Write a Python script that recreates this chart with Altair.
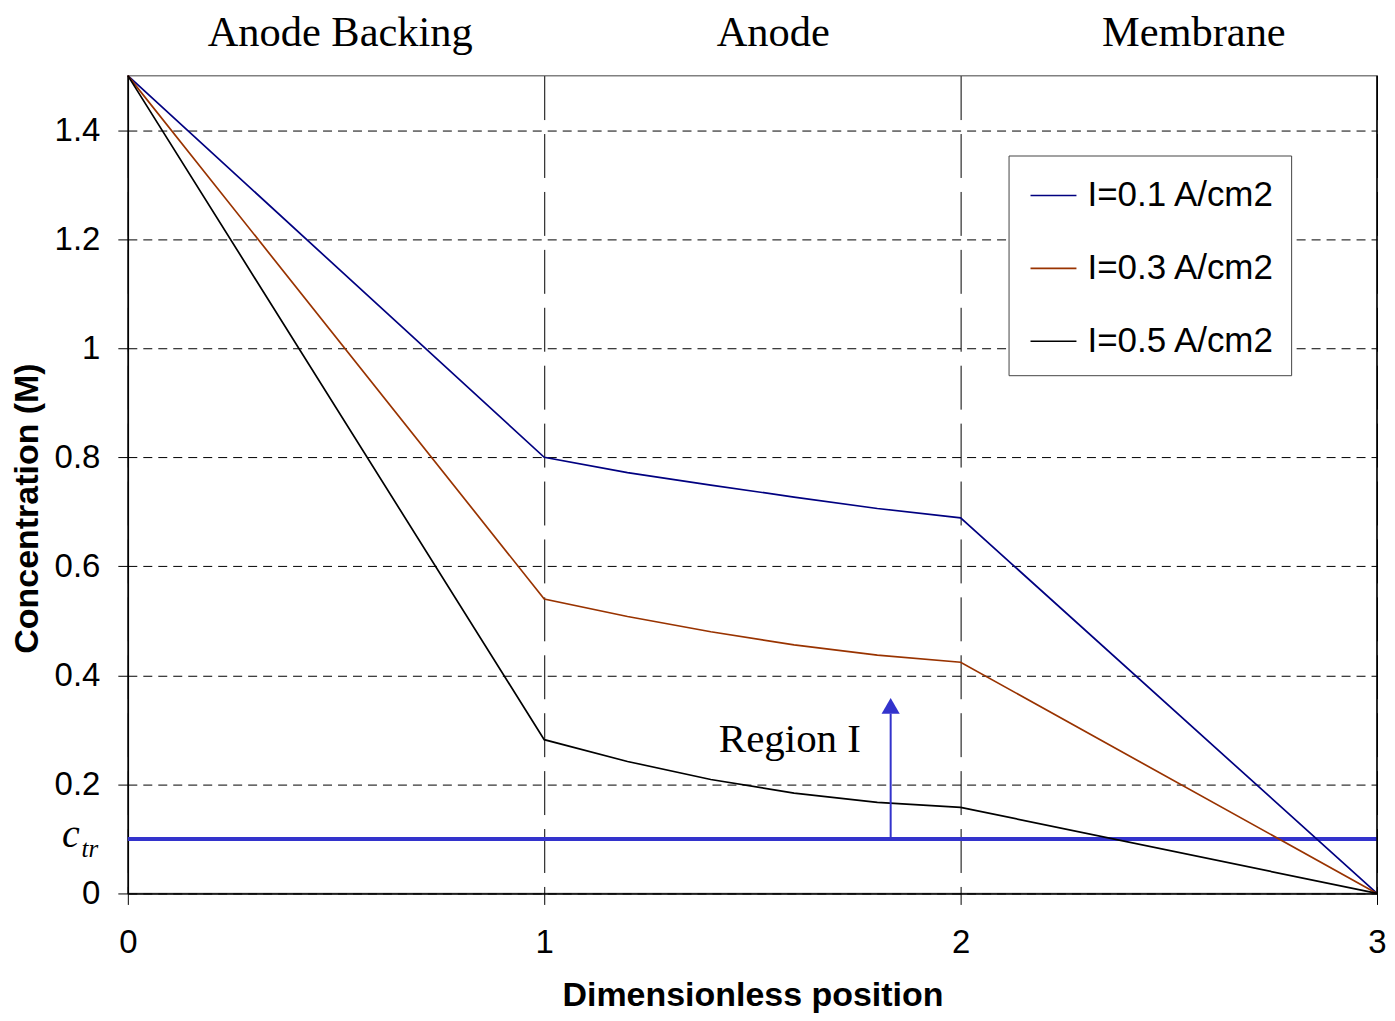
import altair as alt
import pandas as pd

# ---- data ----
x_pos = [0, 1, 1.2, 1.4, 1.6, 1.8, 2, 3]
c_01 = [1.5, 0.800, 0.772, 0.749, 0.727, 0.706, 0.689, 0.0]
c_03 = [1.5, 0.540, 0.508, 0.480, 0.456, 0.437, 0.424, 0.0]
c_05 = [1.5, 0.282, 0.242, 0.209, 0.184, 0.167, 0.158, 0.0]
series_names = ["I=0.1 A/cm2", "I=0.3 A/cm2", "I=0.5 A/cm2"]
series_colors = ["#000080", "#993300", "#000000"]

c_tr = 0.1
arrow_x = 1.832
arrow_top = 0.33

region_labels = ["Anode Backing", "Anode", "Membrane"]
region_x = [0.51, 1.55, 2.56]
region_y = [1.555, 1.555, 1.555]

y_ticks = [0, 0.2, 0.4, 0.6, 0.8, 1.0, 1.2, 1.4]
x_ticks = [0, 1, 2, 3]

rows = []
for name, vals in zip(series_names, [c_01, c_03, c_05]):
    for xv, yv in zip(x_pos, vals):
        rows.append({"x": xv, "y": yv, "series": name})
df = pd.DataFrame(rows)

W, H = 1251, 819
xs = alt.Scale(domain=[0, 3], nice=False)
ys = alt.Scale(domain=[0, 1.5], nice=False)

lines = alt.Chart(df).mark_line(strokeWidth=1.7).encode(
    x=alt.X("x:Q", scale=xs,
            axis=alt.Axis(values=x_ticks, format="d", title="Dimensionless position",
                          grid=True, gridDash=[44, 14], gridColor="black", gridOpacity=1,
                          tickSize=11, labelPadding=22, labelFlush=False,
                          titleY=112, titleBaseline="alphabetic")),
    y=alt.Y("y:Q", scale=ys,
            axis=alt.Axis(values=y_ticks, format="~g", title="Concentration (M)",
                          grid=True, gridDash=[9, 6], gridColor="black", gridOpacity=1,
                          tickSize=10, labelPadding=18, titleX=-100, titleY=433,
                          titleBaseline="middle")),
    color=alt.Color("series:N",
                    scale=alt.Scale(domain=series_names, range=series_colors),
                    legend=alt.Legend(title=None, orient="none", legendX=882, legendY=80,
                                      symbolType="stroke", symbolSize=2116,
                                      symbolStrokeWidth=1.6, labelFontSize=35,
                                      labelFont="Liberation Sans", labelColor="black",
                                      labelLimit=400, symbolOffset=5,
                                      rowPadding=31, labelOffset=10, padding=16,
                                      strokeColor="#444444", fillColor="white")),
    order=alt.Order("x:Q"),
)

ctr_df = pd.DataFrame({"y": [c_tr], "x0": [0], "x1": [3]})
ctr_line = alt.Chart(ctr_df).mark_rule(color="#3333CC", strokeWidth=4).encode(
    x=alt.X("x0:Q", scale=xs), x2="x1:Q", y=alt.Y("y:Q", scale=ys))

arrow_df = pd.DataFrame({"x": [arrow_x], "y0": [c_tr], "y1": [arrow_top]})
arrow_shaft = alt.Chart(arrow_df).mark_rule(color="#3333CC", strokeWidth=2).encode(
    x=alt.X("x:Q", scale=xs), y=alt.Y("y0:Q", scale=ys), y2="y1:Q")
head_df = pd.DataFrame({"x": [arrow_x], "y": [0.344]})
arrow_head = alt.Chart(head_df).mark_point(shape="triangle-up", filled=True, size=330,
                                           color="#3333CC", opacity=1).encode(
    x=alt.X("x:Q", scale=xs), y=alt.Y("y:Q", scale=ys))

reg_df = pd.DataFrame({"x": [1.59], "y": [0.26], "t": ["Region I"]})
region_text = alt.Chart(reg_df).mark_text(font="Liberation Serif", fontSize=41,
                                          baseline="alphabetic", color="black").encode(
    x=alt.X("x:Q", scale=xs), y=alt.Y("y:Q", scale=ys), text="t:N")

top_df = pd.DataFrame({"x": region_x, "y": region_y, "t": region_labels})
top_text = alt.Chart(top_df).mark_text(font="Liberation Serif", fontSize=42.5,
                                       baseline="alphabetic", color="black").encode(
    x=alt.X("x:Q", scale=xs), y=alt.Y("y:Q", scale=ys), text="t:N")

c_df = pd.DataFrame({"x": [-0.137], "y": [0.086], "t": ["c"]})
c_text = alt.Chart(c_df).mark_text(font="Liberation Serif", fontSize=40, fontStyle="italic",
                                   baseline="alphabetic", color="black").encode(
    x=alt.X("x:Q", scale=xs), y=alt.Y("y:Q", scale=ys), text="t:N")
tr_df = pd.DataFrame({"x": [-0.091], "y": [0.066], "t": ["tr"]})
tr_text = alt.Chart(tr_df).mark_text(font="Liberation Serif", fontSize=25, fontStyle="italic",
                                     baseline="alphabetic", color="black").encode(
    x=alt.X("x:Q", scale=xs), y=alt.Y("y:Q", scale=ys), text="t:N")

border_df = pd.DataFrame({"x": [3], "y0": [0], "y1": [1.5]})
right_border = alt.Chart(border_df).mark_rule(color="black", strokeWidth=1.5).encode(
    x=alt.X("x:Q", scale=xs), y=alt.Y("y0:Q", scale=ys), y2="y1:Q")

chart = alt.layer(
    ctr_line, lines, arrow_shaft, arrow_head, region_text, top_text, c_text, tr_text,
    right_border
).properties(
    width=W, height=H,
    autosize=alt.AutoSizeParams(type="none"),
    padding={"left": 120, "top": 67, "right": 10, "bottom": 119},
    background="white",
).configure_view(
    stroke="#808080", strokeWidth=1.5
).configure_axis(
    domainColor="black", domainWidth=1.5, tickColor="black", tickWidth=1,
    labelFont="Liberation Sans", labelFontSize=33, labelColor="black",
    titleFont="Liberation Sans", titleFontSize=34, titleFontWeight="bold", titleColor="black",
)

chart.save("out.html", embed_options={"renderer": "svg", "actions": False})
